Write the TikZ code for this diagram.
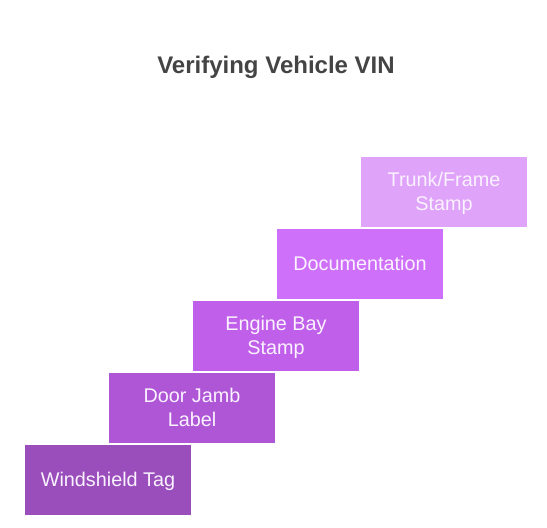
\documentclass[tikz,border=0pt]{standalone}
\usepackage{fontspec}
\setmainfont{Liberation Sans}
\usepackage{tikz}
\usetikzlibrary{positioning}
\definecolor{stepA}{HTML}{9A4EBC}
\definecolor{stepB}{HTML}{AF56D6}
\definecolor{stepC}{HTML}{C05FE9}
\definecolor{stepD}{HTML}{CF70FA}
\definecolor{stepE}{HTML}{DFA3FA}
\definecolor{titlegray}{HTML}{444444}
\definecolor{labelwhite}{HTML}{FBF2FF}
\tikzset{stair/.style = {rectangle, inner sep = 0, minimum width = 166pt, minimum height = 69.5pt, align = center, text depth = 0pt, text = labelwhite, font = \fontsize{19.8}{24}\selectfont}}

\begin{document}
\begin{tikzpicture}[x = 1pt, y = -1pt]

    \useasboundingbox (0, 0) rectangle (547, 528);

    \node [font = \bfseries\fontsize{24}{28}\selectfont, text = titlegray] (title) at (276, 67) {Verifying Vehicle VIN};

    \node [stair, fill = stepA] (0) at (108, 479.75) {Windshield Tag};
    \node [stair, fill = stepB] (1) at (192, 407.75) {Door Jamb\\Label};
    \node [stair, fill = stepC] (2) at (276, 335.75) {Engine Bay\\Stamp};
    \node [stair, fill = stepD] (3) at (360, 263.75) {Documentation};
    \node [stair, fill = stepE] (4) at (444, 191.75) {Trunk/Frame\\Stamp};
  \end{tikzpicture}
\end{document}
